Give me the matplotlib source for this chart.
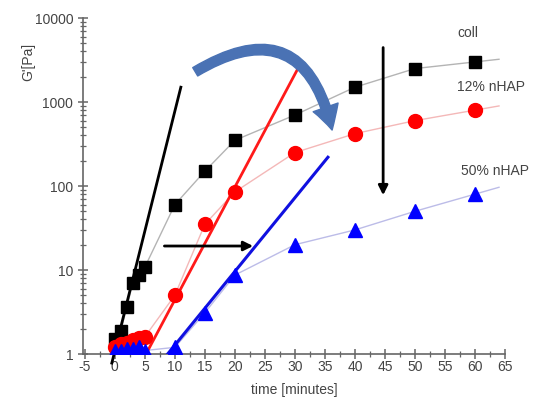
import numpy as np
import matplotlib
matplotlib.use("Agg")
import matplotlib.pyplot as plt
from matplotlib.ticker import LogLocator, FixedLocator, MultipleLocator, FuncFormatter
from matplotlib.patches import FancyArrowPatch

# data
time = [0, 1, 2, 3, 4, 5, 10, 15, 20, 30, 40, 50, 60]
g_coll = [1.5, 1.9, 3.6, 7.0, 8.7, 10.8, 60, 150, 350, 700, 1500, 2500, 3000]
g_12 = [1.2, 1.3, 1.35, 1.45, 1.55, 1.6, 5, 35, 85, 250, 420, 600, 800]
g_50 = [1.1, 1.1, 1.15, 1.15, 1.2, 1.1, 1.2, 3.1, 8.7, 20, 30, 50, 80]

# straight fits of the growth phase (end points)
fit_coll_t, fit_coll_g = [-0.5, 11], [0.78, 1500]
fit_12_t, fit_12_g = [5.2, 30.5], [1.0, 2500]
fit_50_t, fit_50_g = [8.8, 35.5], [1.0, 220]

tail_t = 64
yticks = [1, 10, 100, 1000, 10000]
xticks = list(range(-5, 70, 5))

plt.rcParams['font.family'] = ['Liberation Sans', 'DejaVu Sans']
plt.rcParams['axes.unicode_minus'] = False
fig = plt.figure(figsize=(5.6, 4.09), dpi=100)
ax = fig.add_axes([83/560, 1-354/409, 422/560, 336/409])

def with_tail(t, g):
    # carry the thin trend line a little past the last marker
    lt = np.log10(g[-2:])
    slope = (lt[1]-lt[0])/(t[-1]-t[-2])
    return list(t) + [tail_t], list(g) + [10**(lt[1] + slope*(tail_t - t[-1]))]

series = [
    (g_coll, 's', 'black', '#b4b4b4', 8.5),
    (g_12, 'o', '#ff0000', '#f4b8b8', 10),
    (g_50, '^', '#0000ff', '#bcbce8', 10),
]
for g, mk, c, lc, ms in series:
    tt, gg = with_tail(time, g)
    ax.plot(tt, gg, '-', color=lc, lw=1.0, zorder=2)
    ax.plot(time, g, mk, color=c, ms=ms, mec=c, zorder=4)

ax.plot(fit_coll_t, fit_coll_g, '-', color='black', lw=2.0, zorder=3, clip_on=False)
ax.plot(fit_12_t, fit_12_g, '-', color='#ff1a1a', lw=2.0, zorder=3)
ax.plot(fit_50_t, fit_50_g, '-', color='#1010e0', lw=2.2, zorder=3)

ax.set_yscale('log')
ax.set_xlim(-5.3, 65)
ax.set_ylim(1, 10000)

ax.xaxis.set_major_locator(FixedLocator(xticks))
ax.xaxis.set_minor_locator(MultipleLocator(2.5))
ax.yaxis.set_major_locator(FixedLocator(yticks))
ax.yaxis.set_minor_locator(LogLocator(base=10, subs=np.arange(2, 10)))
ax.yaxis.set_major_formatter(FuncFormatter(lambda v, p: "%d" % v))
ax.yaxis.set_minor_formatter(FuncFormatter(lambda v, p: ""))

for s in ['top', 'right']:
    ax.spines[s].set_visible(False)
for s in ['left', 'bottom']:
    ax.spines[s].set_color('#666666')
    ax.spines[s].set_linewidth(1.2)
ax.tick_params(which='major', direction='inout', length=7, width=1.1, color='#666666',
               labelsize=10, labelcolor='#444444')
ax.tick_params(which='minor', direction='inout', length=4, width=0.9, color='#666666')
ax.tick_params(axis='x', pad=1)

ax.set_xlabel('time [minutes]', fontsize=10, color='#444444', labelpad=6)
fig.text(28/560, 1-62/409, "G'[Pa]", rotation=90, ha='center', va='center',
         fontsize=10, color='#444444')

ax.text(57, 6600, 'coll', fontsize=10, color='#444444', va='center')
ax.text(57, 1500, '12% nHAP', fontsize=10, color='#444444', va='center')
ax.text(57.7, 150, '50% nHAP', fontsize=10, color='#444444', va='center')

# arrows
ax.annotate('', xy=(23.5, 19.3), xytext=(7.8, 19.3),
            arrowprops=dict(arrowstyle='-|>', color='black', lw=2.0, mutation_scale=14))
ax.annotate('', xy=(44.7, 72), xytext=(44.7, 4800),
            arrowprops=dict(arrowstyle='-|>', color='black', lw=2.0, mutation_scale=14))
curve = FancyArrowPatch((13, 2200), (36.3, 430), connectionstyle='arc3,rad=-0.7',
                        arrowstyle='simple,head_width=1.9,head_length=1.7,tail_width=0.7',
                        mutation_scale=10, color='#4a72b4', zorder=5)
ax.add_patch(curve)

fig.savefig('out.png', dpi=100)
